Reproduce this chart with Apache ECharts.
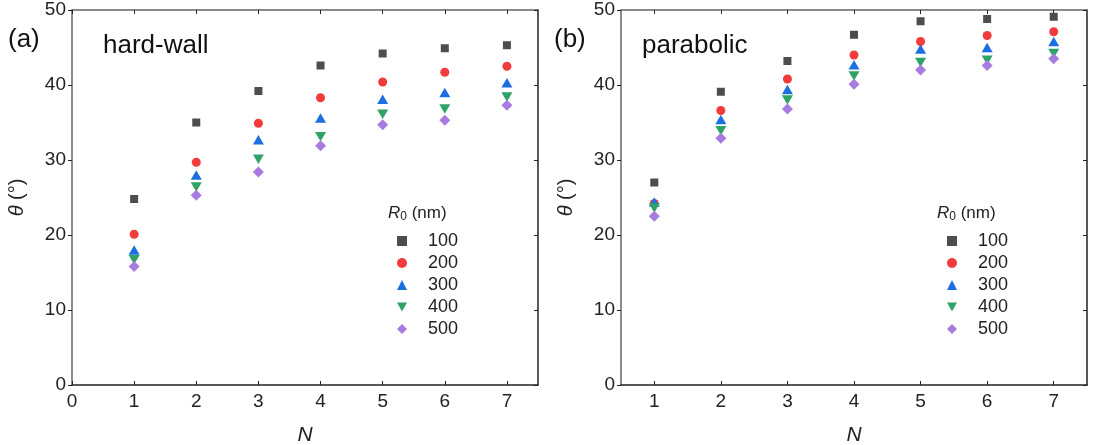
<!DOCTYPE html>
<html>
<head>
<meta charset="utf-8">
<script src="https://cdn.jsdelivr.net/npm/echarts@6/dist/echarts.min.js"></script>
<style>
  html, body { margin: 0; padding: 0; background: #fff; }
  #draw { width: 1094px; height: 445px; }
</style>
</head>
<body>
<div id="draw"></div>
<script>
  // data
  var N = [1, 2, 3, 4, 5, 6, 7]
  var R0 = ['100', '200', '300', '400', '500']
  var xTicksA = [0, 1, 2, 3, 4, 5, 6, 7]
  var xTicksB = [1, 2, 3, 4, 5, 6, 7]
  var yTicks = [0, 10, 20, 30, 40, 50]

  // (a) hard-wall
  var hw100 = [24.8, 35.0, 39.2, 42.6, 44.2, 44.9, 45.3]
  var hw200 = [20.1, 29.7, 34.9, 38.3, 40.4, 41.7, 42.5]
  var hw300 = [18.0, 28.0, 32.7, 35.6, 38.1, 39.0, 40.3]
  var hw400 = [16.7, 26.4, 30.1, 33.1, 36.1, 36.8, 38.4]
  var hw500 = [15.8, 25.3, 28.4, 31.9, 34.7, 35.3, 37.3]

  // (b) parabolic
  var pb100 = [27.0, 39.1, 43.2, 46.7, 48.5, 48.8, 49.1]
  var pb200 = [24.2, 36.6, 40.8, 44.0, 45.8, 46.6, 47.1]
  var pb300 = [24.4, 35.4, 39.4, 42.7, 44.8, 45.0, 45.8]
  var pb400 = [23.6, 33.9, 38.0, 41.2, 43.0, 43.3, 44.2]
  var pb500 = [22.5, 32.9, 36.8, 40.1, 42.0, 42.6, 43.5]

  var FONT = "'Liberation Sans', Arial, sans-serif"
  var INK = '#222'
  var GREY = '#666'

  var marks = [
    { symbol: 'rect', size: 8, color: '#4d4d4d' },
    { symbol: 'circle', size: 9, color: '#f23b3b' },
    { symbol: 'triangle', size: [11, 9.5], color: '#1b6fe0' },
    { symbol: 'path://M0,0L10,0L5,9Z', size: [11, 9.5], color: '#2fa266' },
    { symbol: 'diamond', size: [11, 11], color: '#a87be0' }
  ]

  function makeSeries (sets, gi) {
    return sets.map(function (vals, i) {
      return {
        name: R0[i],
        type: 'scatter',
        xAxisIndex: gi * 2,
        yAxisIndex: gi * 2,
        symbol: marks[i].symbol,
        symbolSize: marks[i].size,
        itemStyle: { color: marks[i].color, opacity: 1 },
        emphasis: { disabled: true },
        data: N.map(function (n, k) { return [n, vals[k]] })
      }
    })
  }

  function xAxes (gi, min, ticks) {
    return [{ // bottom
      gridIndex: gi,
      type: 'value',
      min: min,
      max: 7.5,
      position: 'bottom',
      axisLine: { show: true, onZero: false, lineStyle: { color: INK, width: 1.5 } },
      axisTick: { show: true, inside: true, length: 4, customValues: ticks, lineStyle: { color: INK } },
      axisLabel: { customValues: ticks, fontSize: 19, color: INK, margin: 7, fontFamily: FONT },
      splitLine: { show: false },
      name: 'N',
      nameLocation: 'middle',
      nameGap: 40,
      nameTextStyle: { fontSize: 21, fontStyle: 'italic', color: INK, fontFamily: FONT }
    }, { // top mirror
      gridIndex: gi,
      type: 'value',
      min: min,
      max: 7.5,
      position: 'top',
      axisLine: { show: true, onZero: false, lineStyle: { color: GREY, width: 1.5 } },
      axisTick: { show: true, inside: true, length: 4, customValues: ticks, lineStyle: { color: INK } },
      axisLabel: { show: false },
      splitLine: { show: false }
    }]
  }

  function yAxes (gi) {
    return [{ // left
      gridIndex: gi,
      type: 'value',
      min: 0,
      max: 50,
      position: 'left',
      axisLine: { show: true, onZero: false, lineStyle: { color: GREY, width: 1.5 } },
      axisTick: { show: true, inside: false, length: 4, customValues: yTicks, lineStyle: { color: INK } },
      axisLabel: { customValues: yTicks, fontSize: 19, color: INK, margin: 6, fontFamily: FONT },
      splitLine: { show: false },
      name: '{i|θ} (°)',
      nameLocation: 'middle',
      nameGap: 45,
      nameTextStyle: {
        fontSize: 20, color: INK, fontFamily: FONT,
        rich: { i: { fontSize: 20, fontStyle: 'italic', color: INK, fontFamily: FONT } }
      }
    }, { // right mirror
      gridIndex: gi,
      type: 'value',
      min: 0,
      max: 50,
      position: 'right',
      axisLine: { show: true, onZero: false, lineStyle: { color: INK, width: 1.5 } },
      axisTick: { show: true, inside: true, length: 4, customValues: yTicks, lineStyle: { color: INK } },
      axisLabel: { show: false },
      splitLine: { show: false }
    }]
  }

  function legendFor (left) {
    return {
      data: R0,
      orient: 'vertical',
      left: left,
      top: 232,
      padding: 0,
      itemWidth: 10,
      itemHeight: 10,
      itemGap: 4,
      selectedMode: false,
      textStyle: { fontSize: 18, color: INK, fontFamily: FONT, padding: [0, 0, 0, 16] }
    }
  }

  function legendTitle (left) {
    return {
      text: '{r|R}{s|0}{n| (nm)}',
      left: left,
      top: 203,
      padding: 0,
      textStyle: {
        fontWeight: 'normal',
        rich: {
          r: { fontSize: 17, fontStyle: 'italic', fontWeight: 'normal', color: INK, fontFamily: FONT, lineHeight: 20 },
          s: { fontSize: 12, fontWeight: 'normal', color: INK, fontFamily: FONT, verticalAlign: 'bottom', lineHeight: 20, padding: [6, 0, 0, 0] },
          n: { fontSize: 17, fontWeight: 'normal', color: INK, fontFamily: FONT, lineHeight: 20 }
        }
      }
    }
  }

  function label (text, x, y) {
    return {
      type: 'text',
      x: x,
      y: y,
      style: { text: text, fontSize: 26, fontFamily: FONT, fill: '#111', align: 'left', verticalAlign: 'middle' }
    }
  }

  var myChart = echarts.init(document.getElementById('draw'), null, { renderer: 'canvas' })
  myChart.setOption({
    animation: false,
    backgroundColor: '#fff',
    title: [legendTitle(388), legendTitle(937)],
    legend: [legendFor(397), legendFor(947)],
    grid: [
      { left: 72, top: 10, width: 466, height: 375, outerBoundsMode: 'none' },
      { left: 621, top: 10, width: 466, height: 375, outerBoundsMode: 'none' }
    ],
    xAxis: xAxes(0, 0, xTicksA).concat(xAxes(1, 0.5, xTicksB)),
    yAxis: yAxes(0).concat(yAxes(1)),
    graphic: [
      label('(a)', 8, 40),
      label('hard-wall', 103, 46),
      label('(b)', 554, 40),
      label('parabolic', 642, 46)
    ],
    series: makeSeries([hw100, hw200, hw300, hw400, hw500], 0)
      .concat(makeSeries([pb100, pb200, pb300, pb400, pb500], 1))
  })
</script>
</body>
</html>
